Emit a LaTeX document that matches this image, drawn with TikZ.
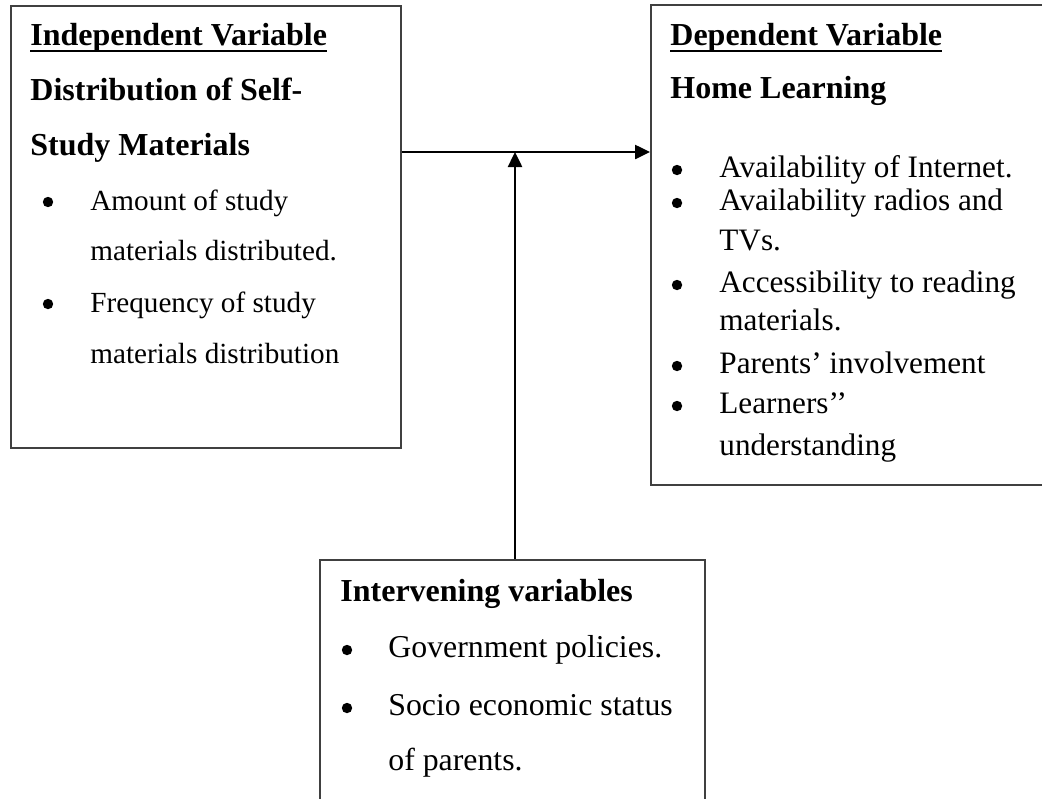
\documentclass[tikz,border=0pt]{standalone}
\usepackage{fontspec}
\setmainfont{Liberation Serif}
\usetikzlibrary{arrows.meta}
\newcommand\headrule[1]{\setbox0\hbox{#1}\rlap{\rule[-3.6pt]{\wd0}{1.1pt}}\box0}
\tikzset{frame/.style={draw=black!75, line width=0.75pt, rectangle, inner sep=0pt, anchor=north west},
  txt/.style={anchor=base west, inner sep=0pt, font=\fontsize{#1}{18}\selectfont},
  txt/.default=15.6,
  head/.style={txt=16, font=\fontsize{16}{18}\selectfont\bfseries},
  dot/.style={circle, fill, inner sep=0pt, minimum size=5.2pt},
  flow/.style={line width=1.25pt, -{Triangle[length=7.5pt,width=7pt]}}}

\begin{document}
\begin{tikzpicture}[x=0.5pt, y=-0.5pt]
      \useasboundingbox (0,0) rectangle (1042,798);

      % the three boxes
      \node [frame, minimum width=195pt, minimum height=221pt] (indep) at (10,5) {};
      \node [frame, minimum width=210pt, minimum height=240pt] (dep) at (650,4) {};
      \node [frame, minimum width=192.5pt, minimum height=150pt] (interv) at (319,559) {};

      % independent variable
      \node [head] (indh) at (30,45) {\headrule{Independent Variable}};
      \node [head] (indt1) at (30,100) {Distribution of Self-};
      \node [head] (indt2) at (30,155) {Study Materials};
      \foreach \y [count=\i] in {210,312}
        \node [dot] (indb\i) at (48,\y-8) {};
      \foreach \y/\t [count=\i] in {210/Amount of study, 260/materials distributed., 312/Frequency of study, 363/materials distribution}
        \node [txt=14.6] (indl\i) at (90,\y) {\t};

      % dependent variable
      \node [head] (deph) at (670,45) {\headrule{Dependent Variable}};
      \node [head] (dept) at (670,98) {Home Learning};
      \foreach \y [count=\i] in {177,210,292,373,413}
        \node [dot] (depb\i) at (677,\y-7) {};
      \foreach \y/\t [count=\i] in {177/Availability of Internet., 210/Availability radios and, 250/TVs., 292/Accessibility to reading, 330/materials., 373/Parents’ involvement, 413/Learners’’, 455/understanding}
        \node [txt] (depl\i) at (719,\y) {\t};

      % intervening variables
      \node [head] (inth) at (340,601) {Intervening variables};
      \foreach \y [count=\i] in {657,715}
        \node [dot] (intb\i) at (347,\y-7) {};
      \foreach \y/\t [count=\i] in {657/Government policies., 715/Socio economic status, 770/of parents.}
        \node [txt=15.9] (intl\i) at (388,\y) {\t};

      % arrows
      \coordinate (join) at (515,152);
      \draw [flow] (join -| indep.east) -- (join -| dep.west);
      \draw [flow] (join |- interv.north) -- (join);
\end{tikzpicture}
\end{document}
